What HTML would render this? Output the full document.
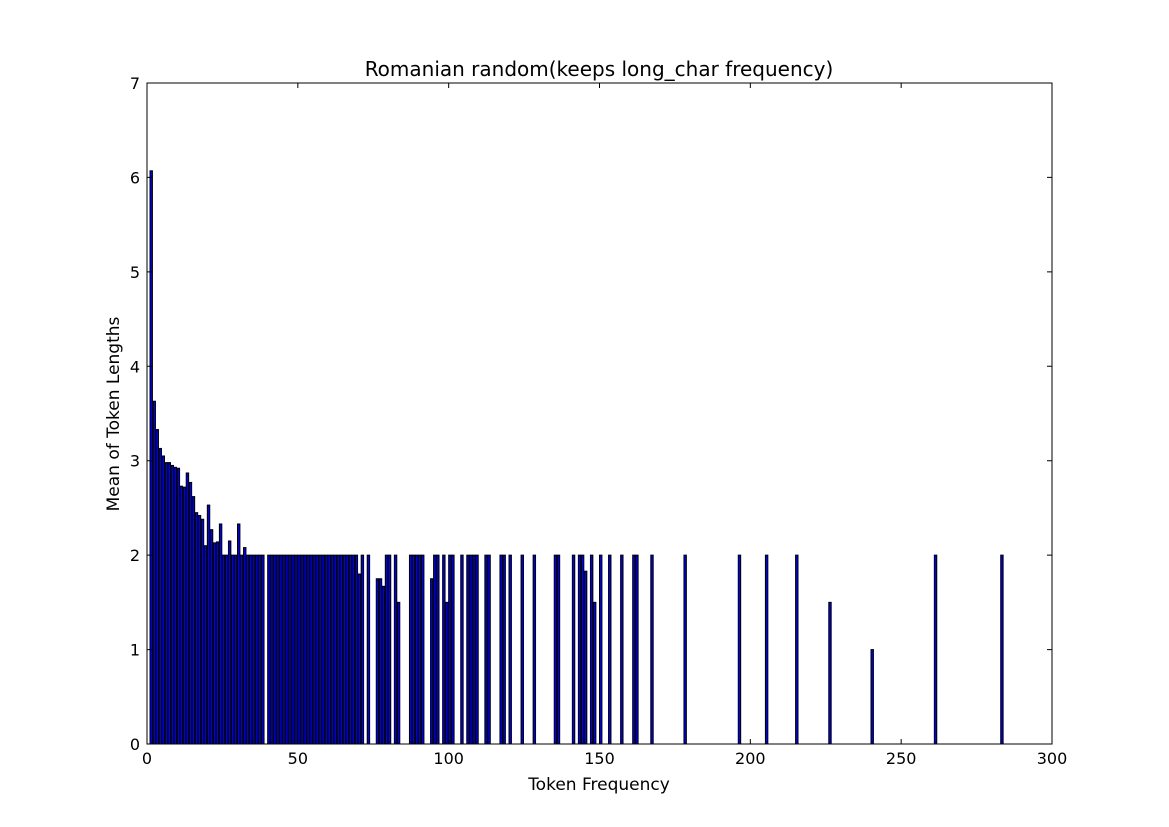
<!DOCTYPE html>
<html><head><meta charset="utf-8"><style>
html,body{margin:0;padding:0;background:#fff;}
svg{display:block;font-family:"DejaVu Sans","Liberation Sans",sans-serif;}
</style></head><body>
<svg id="chart" width="1169" height="827" viewBox="0 0 1169 827">
<rect width="1169" height="827" fill="#fff"/>
<text x="599" y="76" font-size="20" text-anchor="middle">Romanian random(keeps long_char frequency)</text>
<text x="599" y="790" font-size="17" text-anchor="middle">Token Frequency</text>
<text x="119" y="414" font-size="17" text-anchor="middle" transform="rotate(-90 119 414)">Mean of Token Lengths</text>
<g id="bars"></g>
<g id="axes"></g>
<rect x="147" y="83" width="905" height="661" fill="none" stroke="#000" stroke-width="1"/>
</svg>
<script>
const xs = [1,2,3,4,5,6,7,8,9,10,11,12,13,14,15,16,17,18,19,20,21,22,23,24,25,26,27,28,29,30,31,32,33,34,35,36,37,38,
40,41,42,43,44,45,46,47,48,49,50,51,52,53,54,55,56,57,58,59,60,61,62,63,64,65,66,67,68,69,70,71,73,76,77,78,79,80,82,83,
87,88,89,90,91,94,95,96,98,99,100,101,104,106,107,108,109,112,113,117,118,120,124,128,135,136,141,143,144,145,147,148,150,153,157,161,162,167,
178,196,205,215,226,240,261,283];
const ys = [6.07,3.63,3.33,3.13,3.05,2.98,2.98,2.95,2.93,2.92,2.73,2.72,2.87,2.77,2.62,2.45,2.42,2.38,2.1,2.53,2.27,2.13,2.14,2.33,2.0,2.0,2.15,2.0,2.0,2.33,2.0,2.08,2,2,2,2,2,2,
2,2,2,2,2,2,2,2,2,2,2,2,2,2,2,2,2,2,2,2,2,2,2,2,2,2,2,2,2,2,1.8,2,2,1.75,1.75,1.67,2,2,2,1.5,
2,2,2,2,2,1.75,2,2,2,1.5,2,2,2,2,2,2,2,2,2,2,2,2,2,2,2,2,2,2,2,1.83,2,1.5,2,2,2,2,2,2,
2,2,2,2,1.5,1.0,2,2];
const xTicks = [0,50,100,150,200,250,300];
const yTicks = [0,1,2,3,4,5,6,7];
const X0=147,X1=1052,Y0=744,Y1=83;
const sx=v=>X0+(v/300)*(X1-X0);
const sy=v=>Y0-(v/7)*(Y0-Y1);
const NS="http://www.w3.org/2000/svg";
const bars=document.getElementById('bars'), axes=document.getElementById('axes');
xs.forEach((x,i)=>{
  const r=document.createElementNS(NS,'rect');
  const l=sx(x), w=sx(x+0.8)-l;
  r.setAttribute('x',l); r.setAttribute('y',sy(ys[i]));
  r.setAttribute('width',w); r.setAttribute('height',Y0-sy(ys[i]));
  r.setAttribute('fill','#0000e0'); r.setAttribute('stroke','#000'); r.setAttribute('stroke-width','1');
  
  
  bars.appendChild(r);
});
xTicks.forEach(t=>{
  const x=sx(t);
  const l=document.createElementNS(NS,'path');
  l.setAttribute('d',`M${x},${Y0}v-5M${x},${Y1}v5`); l.setAttribute('stroke','#000');
  
  
  axes.appendChild(l);
  const tx=document.createElementNS(NS,'text');
  tx.setAttribute('x',x); tx.setAttribute('y',Y0+20); tx.setAttribute('font-size','16'); tx.setAttribute('text-anchor','middle');
  tx.textContent=t;
  
  
  axes.appendChild(tx);
});
yTicks.forEach(t=>{
  const y=sy(t);
  const l=document.createElementNS(NS,'path');
  l.setAttribute('d',`M${X0},${y}h5M${X1},${y}h-5`); l.setAttribute('stroke','#000');
  
  
  axes.appendChild(l);
  const tx=document.createElementNS(NS,'text');
  tx.setAttribute('x',X0-7); tx.setAttribute('y',y+6); tx.setAttribute('font-size','16'); tx.setAttribute('text-anchor','end');
  tx.textContent=t;
  
  
  axes.appendChild(tx);
});
</script>
</body></html>
